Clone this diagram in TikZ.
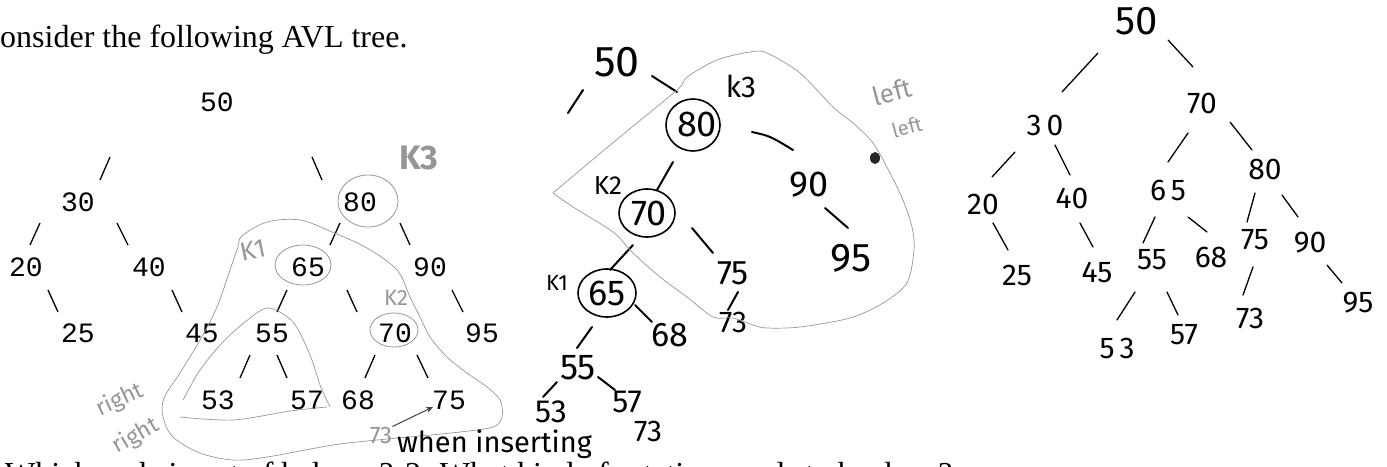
\documentclass[tikz,border=0pt]{standalone}
\usepackage{fontspec}
\setmainfont{Liberation Serif}
\newfontfamily\mono{Liberation Mono}
\newfontfamily\hw{Fira Sans}
\usetikzlibrary{arrows.meta}
\definecolor{pencilgray}{RGB}{150,150,150}
\tikzset{
 mono/.style={font=\mono\fontsize{28}{30}\selectfont, inner sep=0},
 hwm/.style={font=\hw\fontsize{36}{40}\selectfont, inner sep=0},
 hwr/.style={font=\hw\fontsize{30}{34}\selectfont, inner sep=0},
 pencil/.style={draw=pencilgray, line width=0.7pt},
 ptext/.style={text=pencilgray, inner sep=0, font=\hw\fontsize{26}{28}\selectfont},
 tedge/.style={line width=1.3pt},
 medge/.style={line width=2pt, line cap=round},
 redge/.style={line width=1.3pt, line cap=round},
 circ/.style={line width=1.6pt},
 pcirc/.style={draw=pencilgray, line width=0.8pt}
}
\begin{document}
\begin{tikzpicture}[x=1pt,y=-1pt]
\useasboundingbox (0,0) rectangle (1387,466);
\clip (0,0) rectangle (1387,466);
% printed text
\node[anchor=base west, inner sep=0, font=\fontsize{32}{36}\selectfont] (title) at (0,47) {onsider the following AVL tree.};
\node[anchor=base west, inner sep=0, font=\fontsize{32}{36}\selectfont] (q1) at (5,484) {Which node is out of balance?};
\node[anchor=base west, inner sep=0, font=\fontsize{32}{36}\selectfont] (q2) at (405,484) {2. What kind of rotation needs to be done?};

% ---------- tree 1 (typed) ----------
\node[mono] (a50) at (217,102) {50};
\node[mono] (a30) at (78,202) {30};
\node[mono] (a80) at (360,202) {80};
\node[mono] (a20) at (26,267) {20};
\node[mono] (a40) at (149,267) {40};
\node[mono] (a65) at (308,267) {65};
\node[mono] (a90) at (430,267) {90};
\node[mono] (a25) at (78,333) {25};
\node[mono] (a45) at (202,333) {45};
\node[mono] (a55) at (272,333) {55};
\node[mono] (a70) at (395,333) {70};
\node[mono] (a95) at (482,333) {95};
\node[mono] (a53) at (218,400) {53};
\node[mono] (a57) at (307,400) {57};
\node[mono] (a68) at (358,400) {68};
\node[mono] (a75) at (449,400) {75};
\draw[tedge] (110,157) -- (100,180);
\draw[tedge] (312,157) -- (322,180);
\draw[tedge] (40,223) -- (30,245);
\draw[tedge] (117,223) -- (128,245);
\draw[tedge] (340,223) -- (330,245);
\draw[tedge] (400,223) -- (410,245);
\draw[tedge] (48,290) -- (58,312);
\draw[tedge] (172,290) -- (182,312);
\draw[tedge] (287,290) -- (277,312);
\draw[tedge] (347,290) -- (357,312);
\draw[tedge] (452,290) -- (463,312);
\draw[tedge] (250,355) -- (240,378);
\draw[tedge] (277,355) -- (287,378);
\draw[tedge] (375,355) -- (365,378);
\draw[tedge] (417,355) -- (428,378);
% pencil marks tree 1
\draw[pcirc] (368,201) ellipse [x radius=30pt, y radius=26pt];
\draw[pcirc] (303,265) ellipse [x radius=28pt, y radius=20pt];
\draw[pcirc] (394,330) ellipse [x radius=24pt, y radius=17pt];
\node[ptext, font=\hw\fontsize{34}{36}\selectfont\bfseries] (k3a) at (419,158) {K3};
\node[ptext, rotate=12] (k1a) at (253,250) {K1};
\node[ptext, font=\hw\fontsize{22}{24}\selectfont] (k2a) at (396,298) {K2};
\node[ptext, rotate=25, font=\hw\fontsize{23}{24}\selectfont] (r1) at (120,400) {right};
\node[ptext, rotate=30, font=\hw\fontsize{23}{24}\selectfont] (r2) at (136,436) {right};
\draw[pencil] plot[smooth cycle, tension=0.55] coordinates {(242,236) (267,222) (300,220) (332,232) (367,248) (397,270) (410,297) (420,317) (430,337) (447,357) (467,373) (487,387) (500,400) (502,417) (493,427) (460,432) (420,436) (377,440) (333,445) (267,457) (233,460) (200,453) (173,437) (163,417) (164,398) (180,373) (200,340) (217,307) (230,270) (238,247)};
\draw[pencil] plot[smooth, tension=0.5] coordinates {(183,400) (200,370) (222,343) (245,322) (268,308) (293,322) (310,355) (320,385) (330,407)};
\draw[pencil] plot[smooth, tension=0.5] coordinates {(180,417) (233,420) (290,411) (327,407)};
\node[ptext, font=\hw\fontsize{24}{26}\selectfont] (g73) at (381,435) {73};
\draw[draw=black!75, line width=1pt, -{Stealth[length=7pt,width=6pt]}] (g73.north east) -- (433,407);
\node[inner sep=0, font=\hw\fontsize{29}{30}\selectfont, anchor=base west] (when) at (397,452) {when inserting};
\node[inner sep=0, font=\hw\fontsize{30}{32}\selectfont] (w73) at (648,431) {73};

% ---------- tree 2 (hand) ----------
\node[hwm, font=\hw\fontsize{43}{46}\selectfont] (b50) at (617,62) {50};
\node[hwm] (b80) at (697,124) {80};
\node[hwm] (b90) at (809,185) {90};
\node[hwm, font=\hw\fontsize{40}{44}\selectfont] (b95) at (851,258) {95};
\node[hwm] (b70) at (649,213) {70};
\node[hwm, font=\hw\fontsize{34}{36}\selectfont] (b75) at (733,273) {75};
\node[hwm, font=\hw\fontsize{30}{32}\selectfont] (b73) at (733,322) {73};
\node[hwm] (b65) at (607,293) {65};
\node[hwm, font=\hw\fontsize{34}{36}\selectfont] (b68) at (670,335) {68};
\node[hwm] (b55) at (578,368) {55};
\node[hwm, font=\hw\fontsize{32}{34}\selectfont] (b53) at (551,412) {53};
\node[hwm, font=\hw\fontsize{32}{34}\selectfont] (b57) at (627,402) {57};
\draw[circ] (693,125) ellipse [x radius=27pt, y radius=26pt];
\draw[circ] (647,213) ellipse [x radius=28pt, y radius=24pt];
\draw[circ] (607,293) ellipse [x radius=29pt, y radius=24pt];
\node[inner sep=0, font=\hw\fontsize{30}{32}\selectfont] (k3b) at (741,86) {k3};
\node[inner sep=0, font=\hw\fontsize{26}{28}\selectfont] (k2b) at (608,186) {K2};
\node[inner sep=0, font=\hw\fontsize{22}{24}\selectfont] (k1b) at (557,283) {K1};
\draw[medge] (583,90) -- (568,113);
\draw[medge] (652,76) -- (677,92);
\draw[medge] (673,162) -- (657,190);
\draw[medge] (752,132) .. controls (770,136) .. (793,150);
\draw[medge] (825,208) -- (848,228);
\draw[medge] (692,228) -- (713,253);
\draw[medge] (633,245) -- (610,270);
\draw[medge] (738,292) -- (728,310);
\draw[medge] (635,305) -- (652,322);
\draw[medge] (592,327) -- (577,348);
\draw[medge] (557,382) -- (543,397);
\draw[medge] (598,377) -- (615,390);
\draw[pencil] plot[smooth, tension=0.5] coordinates {(553,193) (615,141) (677,90) (687,77) (717,60) (750,52) (767,53) (800,73) (833,107) (853,123) (873,143) (890,173) (903,200) (912,227) (914,250) (907,283) (883,303) (850,318) (800,327) (767,328) (753,325) (733,318) (713,317) (687,297) (660,277) (633,253) (613,232) (573,207) (553,193)};
\node[ptext, rotate=15] (l1) at (892,92) {left};
\node[ptext, rotate=15, font=\hw\fontsize{20}{22}\selectfont] (l2) at (907,127) {left};
\fill[black!85] (875,158) ellipse [x radius=5pt, y radius=6pt];

% ---------- tree 3 (hand) ----------
\node[hwr, font=\hw\fontsize{40}{44}\selectfont] (c50) at (1137,21) {50};
\node[hwr] (c30) at (1045,125) {3\,0};
\node[hwr] (c70) at (1202,103) {70};
\node[hwr] (c20) at (983,204) {20};
\node[hwr] (c40) at (1072,198) {40};
\node[hwr] (c65) at (1168,190) {6\,5};
\node[hwr] (c80) at (1265,169) {80};
\node[hwr] (c25) at (1017,275) {25};
\node[hwr] (c45) at (1097,272) {45};
\node[hwr] (c55) at (1152,260) {55};
\node[hwr] (c68) at (1211,257) {68};
\node[hwr] (c75) at (1255,240) {75};
\node[hwr] (c90) at (1310,243) {90};
\node[hwr] (c73) at (1250,318) {73};
\node[hwr] (c95) at (1358,303) {95};
\node[hwr] (c53) at (1117,348) {5\,3};
\node[hwr] (c57) at (1184,335) {57};
\draw[redge] (1098,53) -- (1062,92);
\draw[redge] (1168,40) -- (1193,67);
\draw[redge] (1015,152) -- (992,177);
\draw[redge] (1055,145) -- (1070,175);
\draw[redge] (1188,133) -- (1168,162);
\draw[redge] (1230,122) -- (1252,150);
\draw[redge] (993,223) -- (1008,250);
\draw[redge] (1080,223) -- (1093,247);
\draw[redge] (1155,217) -- (1143,243);
\draw[redge] (1188,217) -- (1207,232);
\draw[redge] (1255,193) -- (1247,222);
\draw[redge] (1282,195) -- (1298,217);
\draw[redge] (1253,267) -- (1243,295);
\draw[redge] (1327,265) -- (1342,283);
\draw[redge] (1135,292) -- (1117,320);
\draw[redge] (1167,292) -- (1178,315);
\end{tikzpicture}
\end{document}
